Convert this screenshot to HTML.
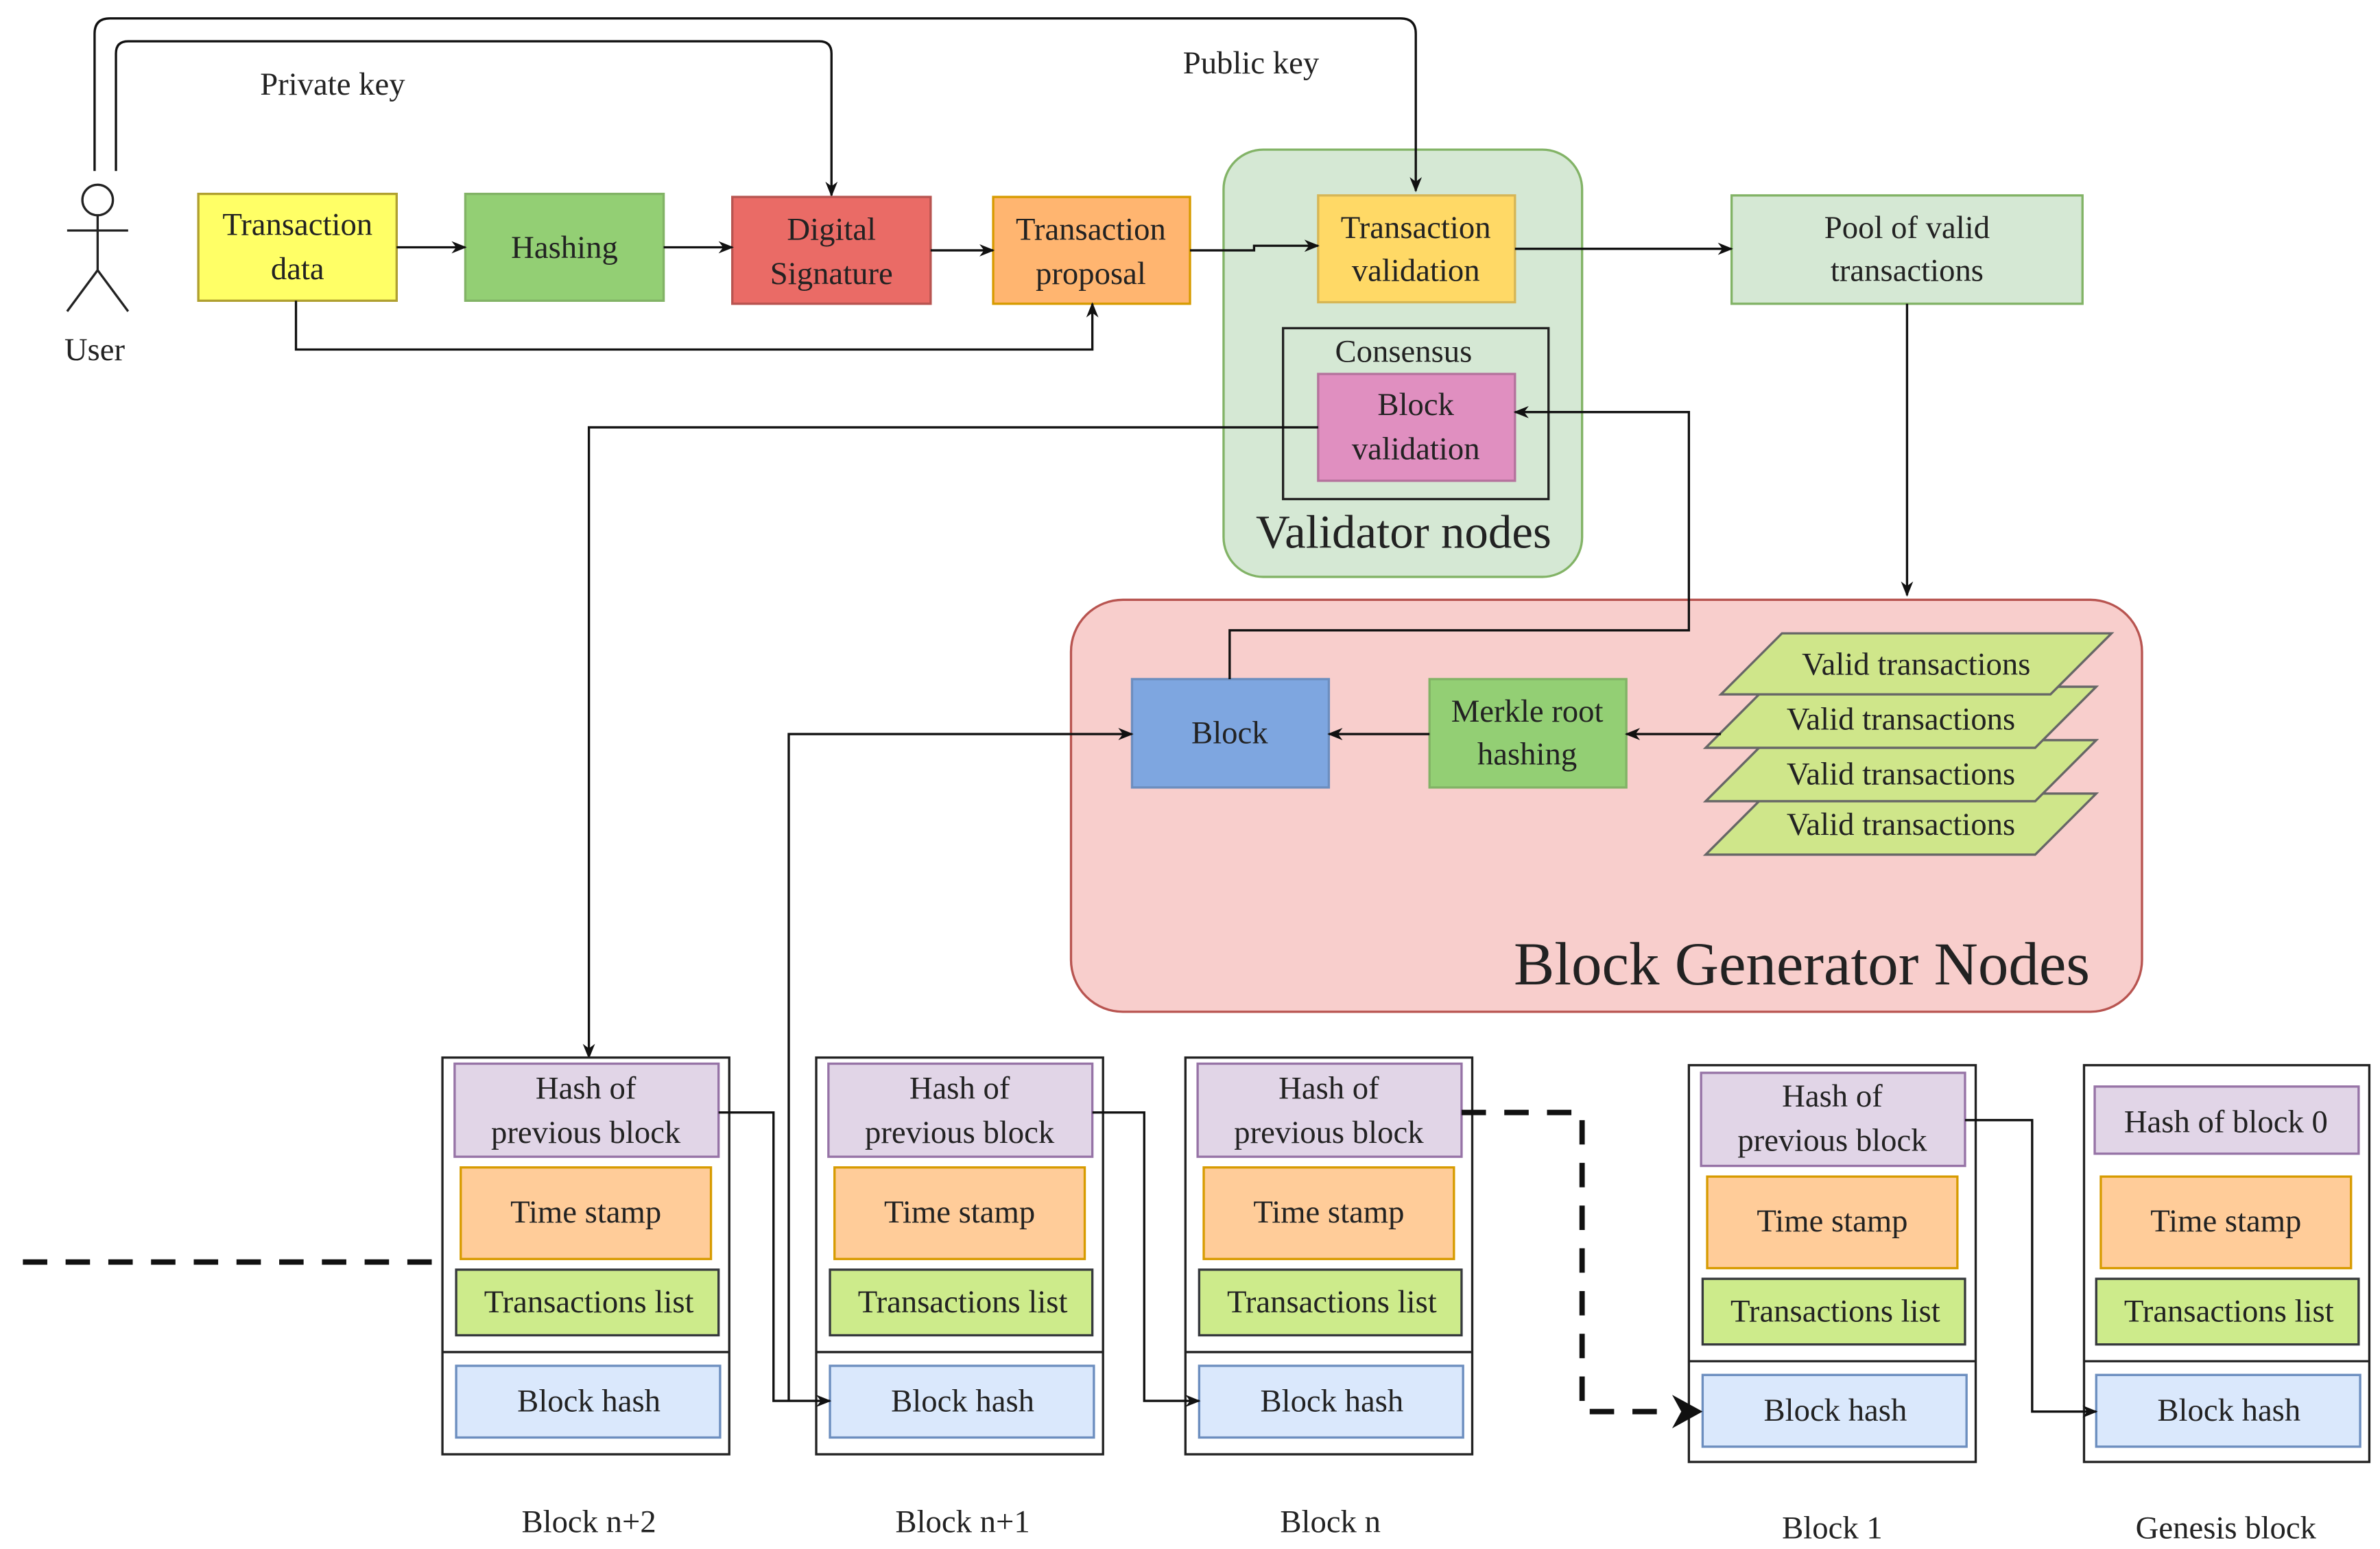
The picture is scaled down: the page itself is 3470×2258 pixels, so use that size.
<!DOCTYPE html>
<html><head><meta charset="utf-8"><style>html,body{margin:0;padding:0;background:#fff}svg{display:block}svg text{font-family:"Liberation Serif","DejaVu Serif",serif;fill:#222}</style></head>
<body>
<svg width="3470" height="2258" viewBox="0 0 1560 1015" xmlns="http://www.w3.org/2000/svg" font-family="Liberation Serif, DejaVu Serif, serif">
<defs>
<marker id="a" markerWidth="10" markerHeight="10" refX="9" refY="5" orient="auto" markerUnits="userSpaceOnUse"><path d="M0,1 L10,5 L0,9 L3,5 Z" fill="#111"/></marker>
</defs>
<rect width="1560" height="1015" fill="#fff"/>
<rect x="802" y="98" width="235" height="280" rx="26" fill="#d5e8d4" stroke="#82b366" stroke-width="1.5"/>
<text x="920" y="359" font-size="31" text-anchor="middle">Validator nodes</text>
<rect x="702" y="393" width="702" height="270" rx="34" fill="#f8cecc" stroke="#b85450" stroke-width="1.5"/>
<text x="1181" y="645" font-size="40" text-anchor="middle">Block Generator Nodes</text>
<g stroke="#222" stroke-width="1.5" fill="none">
<circle cx="64" cy="131" r="10" fill="#fff"/>
<line x1="64" y1="141" x2="64" y2="177"/><line x1="44" y1="151" x2="84" y2="151"/>
<line x1="64" y1="177" x2="44" y2="204"/><line x1="64" y1="177" x2="84" y2="204"/>
</g>
<text x="62" y="236" font-size="21" text-anchor="middle">User</text>
<text x="218" y="62" font-size="21" text-anchor="middle">Private key</text>
<text x="820" y="48" font-size="21" text-anchor="middle">Public key</text>
<g stroke="#111" stroke-width="1.5" fill="none">
<path d="M62,112 V22 Q62,12 72,12 H918 Q928,12 928,22 V125" marker-end="url(#a)"/>
<path d="M76,112 V35 Q76,27 84,27 H537 Q545,27 545,35 V128" marker-end="url(#a)"/>
</g>
<g stroke-width="1.5">
<rect x="130" y="127" width="130" height="70" fill="#ffff66" stroke="#b0a030"/>
<rect x="305" y="127" width="130" height="70" fill="#93cf74" stroke="#82b366"/>
<rect x="480" y="129" width="130" height="70" fill="#ea6b66" stroke="#b85450"/>
<rect x="651" y="129" width="129" height="70" fill="#ffb570" stroke="#d79b00"/>
<rect x="864" y="128" width="129" height="70" fill="#ffd966" stroke="#d6b656"/>
<rect x="841" y="215" width="174" height="112" fill="none" stroke="#222"/>
<rect x="864" y="245" width="129" height="70" fill="#e08fc0" stroke="#b5739d"/>
<rect x="1135" y="128" width="230" height="71" fill="#d5e8d4" stroke="#82b366"/>
<rect x="742" y="445" width="129" height="71" fill="#7ea6e0" stroke="#6c8ebf"/>
<rect x="937" y="445" width="129" height="71" fill="#93cf74" stroke="#82b366"/>
</g>
<g font-size="21" text-anchor="middle">
<text x="195" y="154">Transaction</text><text x="195" y="183">data</text>
<text x="370" y="169">Hashing</text>
<text x="545" y="157">Digital</text><text x="545" y="186">Signature</text>
<text x="715" y="157">Transaction</text><text x="715" y="186">proposal</text>
<text x="928" y="156">Transaction</text><text x="928" y="184">validation</text>
<text x="920" y="237">Consensus</text>
<text x="928" y="272">Block</text><text x="928" y="301">validation</text>
<text x="1250" y="156">Pool of valid</text><text x="1250" y="184">transactions</text>
<text x="806" y="487">Block</text>
<text x="1001" y="473">Merkle root</text><text x="1001" y="501">hashing</text>
</g>
<g fill="#cfe68a" stroke="#666" stroke-width="1.5">
<polygon points="1158,520 1374,520 1334,560 1118,560"/>
<polygon points="1158,485 1374,485 1334,525 1118,525"/>
<polygon points="1158,450 1374,450 1334,490 1118,490"/>
<polygon points="1168,415 1384,415 1344,455 1128,455"/>
</g>
<g font-size="21" text-anchor="middle">
<text x="1256" y="442">Valid transactions</text>
<text x="1246" y="478">Valid transactions</text>
<text x="1246" y="514">Valid transactions</text>
<text x="1246" y="547">Valid transactions</text>
</g>
<g stroke="#111" stroke-width="1.5" fill="none">
<path d="M260,162 H305" marker-end="url(#a)"/>
<path d="M435,162 H480" marker-end="url(#a)"/>
<path d="M610,164 H651" marker-end="url(#a)"/>
<path d="M194,197 V229 H716 V199" marker-end="url(#a)"/>
<path d="M780,164 H822 V161 H864" marker-end="url(#a)"/>
<path d="M993,163 H1135" marker-end="url(#a)"/>
<path d="M1250,199 V390" marker-end="url(#a)"/>
<path d="M1128,481 H1066" marker-end="url(#a)"/>
<path d="M937,481 H871" marker-end="url(#a)"/>
<path d="M806,445 V413 H1107 V270 H993" marker-end="url(#a)"/>
<path d="M864,280 H386 V693" marker-end="url(#a)"/>
</g>
<g stroke-width="1.5">
<g>
<rect x="290" y="693" width="188" height="260" fill="#fff" stroke="#222"/>
<line x1="290" y1="886" x2="478" y2="886" stroke="#222"/>
<rect x="298" y="697" width="173" height="61" fill="#e1d5e7" stroke="#9673a6"/>
<rect x="302" y="765" width="164" height="60" fill="#ffcc99" stroke="#d79b00"/>
<rect x="299" y="832" width="172" height="43" fill="#cdeb8b" stroke="#36393d"/>
<rect x="299" y="895" width="173" height="47" fill="#dae8fc" stroke="#6c8ebf"/>
</g>
<g>
<rect x="535" y="693" width="188" height="260" fill="#fff" stroke="#222"/>
<line x1="535" y1="886" x2="723" y2="886" stroke="#222"/>
<rect x="543" y="697" width="173" height="61" fill="#e1d5e7" stroke="#9673a6"/>
<rect x="547" y="765" width="164" height="60" fill="#ffcc99" stroke="#d79b00"/>
<rect x="544" y="832" width="172" height="43" fill="#cdeb8b" stroke="#36393d"/>
<rect x="544" y="895" width="173" height="47" fill="#dae8fc" stroke="#6c8ebf"/>
</g>
<g>
<rect x="777" y="693" width="188" height="260" fill="#fff" stroke="#222"/>
<line x1="777" y1="886" x2="965" y2="886" stroke="#222"/>
<rect x="785" y="697" width="173" height="61" fill="#e1d5e7" stroke="#9673a6"/>
<rect x="789" y="765" width="164" height="60" fill="#ffcc99" stroke="#d79b00"/>
<rect x="786" y="832" width="172" height="43" fill="#cdeb8b" stroke="#36393d"/>
<rect x="786" y="895" width="173" height="47" fill="#dae8fc" stroke="#6c8ebf"/>
</g>
<g>
<rect x="1107" y="698" width="188" height="260" fill="#fff" stroke="#222"/>
<line x1="1107" y1="892" x2="1295" y2="892" stroke="#222"/>
<rect x="1115" y="703" width="173" height="61" fill="#e1d5e7" stroke="#9673a6"/>
<rect x="1119" y="771" width="164" height="60" fill="#ffcc99" stroke="#d79b00"/>
<rect x="1116" y="838" width="172" height="43" fill="#cdeb8b" stroke="#36393d"/>
<rect x="1116" y="901" width="173" height="47" fill="#dae8fc" stroke="#6c8ebf"/>
</g>
<g>
<rect x="1366" y="698" width="187" height="260" fill="#fff" stroke="#222"/>
<line x1="1366" y1="892" x2="1553" y2="892" stroke="#222"/>
<rect x="1373" y="712" width="173" height="44" fill="#e1d5e7" stroke="#9673a6"/>
<rect x="1377" y="771" width="164" height="60" fill="#ffcc99" stroke="#d79b00"/>
<rect x="1374" y="838" width="172" height="43" fill="#cdeb8b" stroke="#36393d"/>
<rect x="1374" y="901" width="173" height="47" fill="#dae8fc" stroke="#6c8ebf"/>
</g>
</g>
<g stroke="#111" stroke-width="1.5" fill="none">
<path d="M517,918 V481 H742" marker-end="url(#a)"/>
<path d="M471,729 H507 V918 H544" marker-end="url(#a)"/>
<path d="M716,729 H750 V918 H786" marker-end="url(#a)"/>
<path d="M1288,734 H1332 V925 H1374" marker-end="url(#a)"/>
</g>
<g stroke="#111" stroke-width="3.5" fill="none" stroke-dasharray="16,12">
<path d="M15,827 H290"/>
<path d="M958,729 H1037 V925 H1098"/>
</g>
<path d="M1096,914 L1116,925 L1096,936 L1102,925 Z" fill="#111"/>
<g font-size="21" text-anchor="middle">
<text x="384" y="720">Hash of</text><text x="384" y="749">previous block</text>
<text x="384" y="801">Time stamp</text><text x="386" y="860">Transactions list</text><text x="386" y="925">Block hash</text>
<text x="629" y="720">Hash of</text><text x="629" y="749">previous block</text>
<text x="629" y="801">Time stamp</text><text x="631" y="860">Transactions list</text><text x="631" y="925">Block hash</text>
<text x="871" y="720">Hash of</text><text x="871" y="749">previous block</text>
<text x="871" y="801">Time stamp</text><text x="873" y="860">Transactions list</text><text x="873" y="925">Block hash</text>
<text x="1201" y="725">Hash of</text><text x="1201" y="754">previous block</text>
<text x="1201" y="807">Time stamp</text><text x="1203" y="866">Transactions list</text><text x="1203" y="931">Block hash</text>
<text x="1459" y="742">Hash of block 0</text>
<text x="1459" y="807">Time stamp</text><text x="1461" y="866">Transactions list</text><text x="1461" y="931">Block hash</text>
<text x="386" y="1004">Block n+2</text>
<text x="631" y="1004">Block n+1</text>
<text x="872" y="1004">Block n</text>
<text x="1201" y="1008">Block 1</text>
<text x="1459" y="1008">Genesis block</text>
</g>
</svg>
</body></html>
